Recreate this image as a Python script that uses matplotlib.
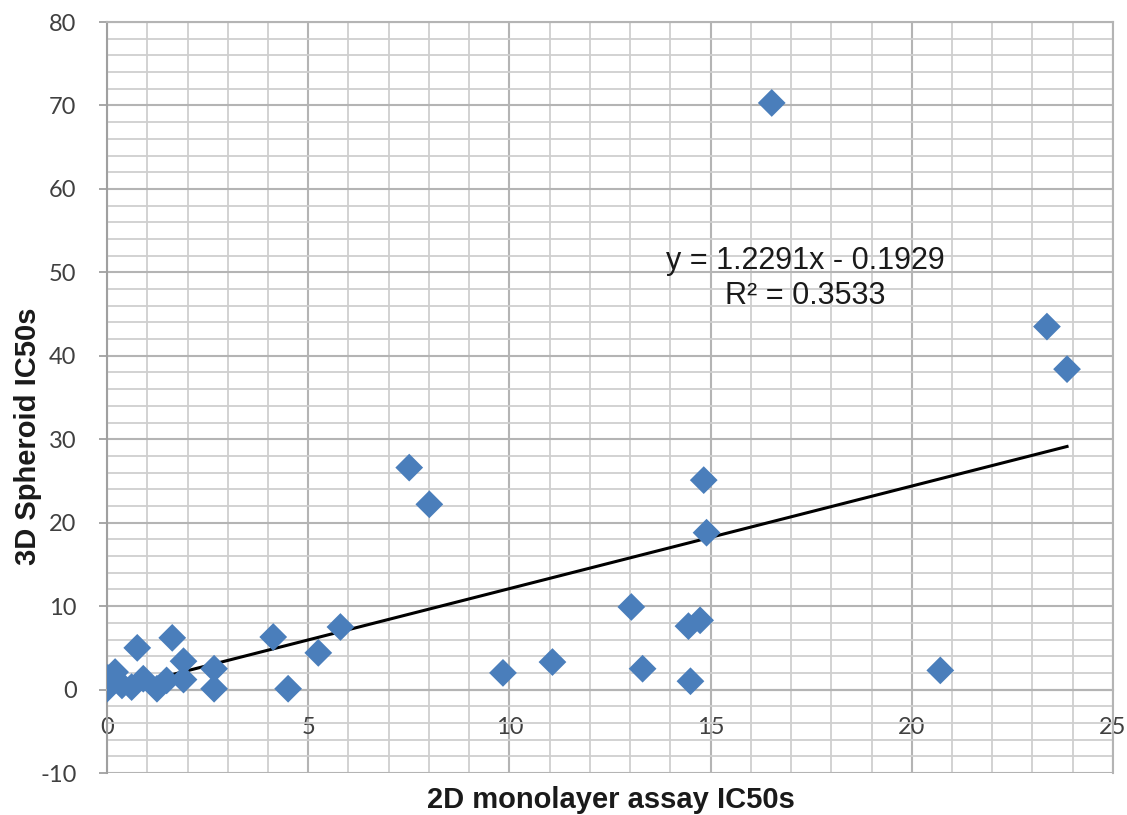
import numpy as np
import matplotlib
matplotlib.use("Agg")
import matplotlib.pyplot as plt
from matplotlib.ticker import MultipleLocator

plt.rcParams['font.family'] = ['Lato', 'DejaVu Sans']
plt.rcParams['axes.unicode_minus'] = False

# IC50 values
ic50_2d = [0.0, 0.02, 0.2, 0.37, 0.61, 0.9, 1.24, 1.48, 0.75, 1.62, 1.9, 1.9,
           2.66, 2.66, 4.13, 4.5, 5.25, 5.8, 7.51, 8.01, 9.84, 11.07, 13.03,
           13.31, 14.45, 14.5, 14.74, 14.83, 14.9, 16.52, 20.71, 23.36, 23.86]
ic50_3d = [0.1, 1.4, 2.1, 0.5, 0.3, 1.3, 0.1, 1.1, 5.0, 6.2, 3.4, 1.2,
           2.5, 0.1, 6.3, 0.1, 4.4, 7.5, 26.6, 22.2, 2.0, 3.3, 9.9,
           2.5, 7.6, 1.0, 8.3, 25.1, 18.8, 70.3, 2.3, 43.5, 38.4]

# linear trend from the chart
slope = 1.2291
intercept = -0.1929
r2 = 0.3533

fig = plt.figure(figsize=(11.27, 8.15), dpi=100)
ax = fig.add_axes([0.095, 0.0515, 0.8925, 0.9215])

ax.set_xlim(0, 25)
ax.set_ylim(-10, 80)
ax.xaxis.set_major_locator(MultipleLocator(5))
ax.xaxis.set_minor_locator(MultipleLocator(1))
ax.yaxis.set_major_locator(MultipleLocator(10))
ax.yaxis.set_minor_locator(MultipleLocator(2))

ax.grid(which='minor', color='#cfcfcf', linewidth=1.3)
ax.grid(which='major', color='#b4b4b4', linewidth=1.5)
ax.set_axisbelow(True)

for s in ax.spines.values():
    s.set_color('#b4b4b4')
    s.set_linewidth(1.5)
ax.spines['bottom'].set_position(('data', 0))
ax.spines['left'].set_color('#a0a0a0')

ax.tick_params(axis='x', which='both', length=0, pad=20, labelsize=17)
ax.tick_params(axis='y', which='major', length=6, width=1.3, pad=16, labelsize=17,
               direction='out', color='#a0a0a0')
ax.tick_params(axis='y', which='minor', length=0)
for lbl in ax.get_xticklabels() + ax.get_yticklabels():
    lbl.set_color('#404040')

# trend line over data range
xs = np.array([min(ic50_2d), max(ic50_2d)])
ax.plot(xs, slope * xs + intercept, color='black', linewidth=2.2, zorder=3)

ax.scatter(ic50_2d, ic50_3d, marker='D', s=200, color='#4a7ebb', edgecolors='none', zorder=4)

eq_font = dict(family=['Liberation Sans', 'DejaVu Sans'], fontsize=22, color='#1a1a1a')
ax.text(17.36, 51.4, "y = %.4fx - %.4f" % (slope, -intercept), ha='center', va='center', **eq_font)
ax.text(17.36, 47.2, "R² = %.4f" % r2, ha='center', va='center', **eq_font)

lab_font = dict(family=['Liberation Sans', 'DejaVu Sans'], color='#1a1a1a', fontweight='bold')
fig.text(0.542, 0.019, "2D monolayer assay IC50s", ha='center', va='center',
         fontsize=21, **lab_font)
fig.text(0.025, 0.465, "3D Spheroid IC50s", ha='center', va='center', rotation=90,
         fontsize=21, **lab_font)

fig.savefig("out.png", dpi=100)
